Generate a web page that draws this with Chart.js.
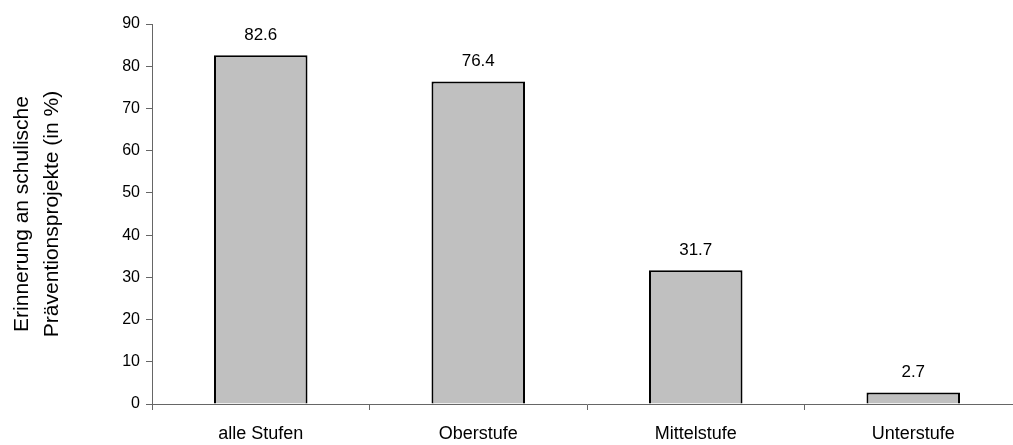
<!DOCTYPE html>
<html>
<head>
<meta charset="utf-8">
<script src="https://cdn.jsdelivr.net/npm/chart.js@4"></script>
<style>
  html, body { margin: 0; padding: 0; background: #fff; overflow: hidden; }
  #wrap { width: 1030px; height: 445px; }
</style>
</head>
<body>
<div id="wrap"><canvas id="stufenChart"></canvas></div>
<script>
// Daten
const stufen = ['alle Stufen', 'Oberstufe', 'Mittelstufe', 'Unterstufe'];
const werte = [82.6, 76.4, 31.7, 2.7];
const yTitel = ['Erinnerung an schulische', 'Präventionsprojekte (in %)'];

// Werte über den Balken
const wertLabels = {
    id: 'wertLabels',
    afterDatasetsDraw(chart) {
        const ctx = chart.ctx;
        const meta = chart.getDatasetMeta(0);
        ctx.save();
        ctx.font = '17px "Liberation Sans", Arial, sans-serif';
        ctx.fillStyle = '#000';
        ctx.textAlign = 'center';
        ctx.textBaseline = 'middle';
        meta.data.forEach((bar, i) => {
            ctx.fillText(werte[i].toFixed(1), bar.x, bar.y - 20);
        });
        ctx.restore();
    }
};

window.onload = function() {
    const ctx = document.getElementById('stufenChart').getContext('2d');
    Chart.defaults.font.family = '"Liberation Sans", Arial, sans-serif';
    Chart.defaults.color = '#000';

    window.stufenChart = new Chart(ctx, {
        type: 'bar',
        data: {
            labels: stufen,
            datasets: [{
                data: werte,
                backgroundColor: '#c0c0c0',
                borderColor: '#000',
                borderWidth: 2,
                barPercentage: 0.43,
                categoryPercentage: 1.0
            }]
        },
        options: {
            responsive: true,
            maintainAspectRatio: false,
            animation: false,
            layout: { padding: { top: 24, right: 8, left: 0, bottom: 0 } },
            plugins: { legend: { display: false }, tooltip: { enabled: false } },
            scales: {
                x: {
                    grid: { drawOnChartArea: false, drawTicks: true, tickLength: 6, color: '#666', offset: true },
                    border: { color: '#666', width: 1 },
                    ticks: { font: { size: 18 }, padding: 13, maxRotation: 0 },
                    afterFit(scale) { scale.height = 41; }
                },
                y: {
                    min: 0,
                    max: 90,
                    ticks: { stepSize: 10, font: { size: 16 }, padding: 6 },
                    grid: { drawOnChartArea: false, drawTicks: true, tickLength: 6, color: '#666' },
                    border: { color: '#666', width: 1 },
                    title: {
                        display: true,
                        text: yTitel,
                        font: { size: 21, lineHeight: 1.4 },
                        padding: { top: 8, bottom: 20 }
                    },
                    afterFit(scale) { scale.width = 152; }
                }
            }
        },
        plugins: [wertLabels]
    });
};
</script>
</body>
</html>
